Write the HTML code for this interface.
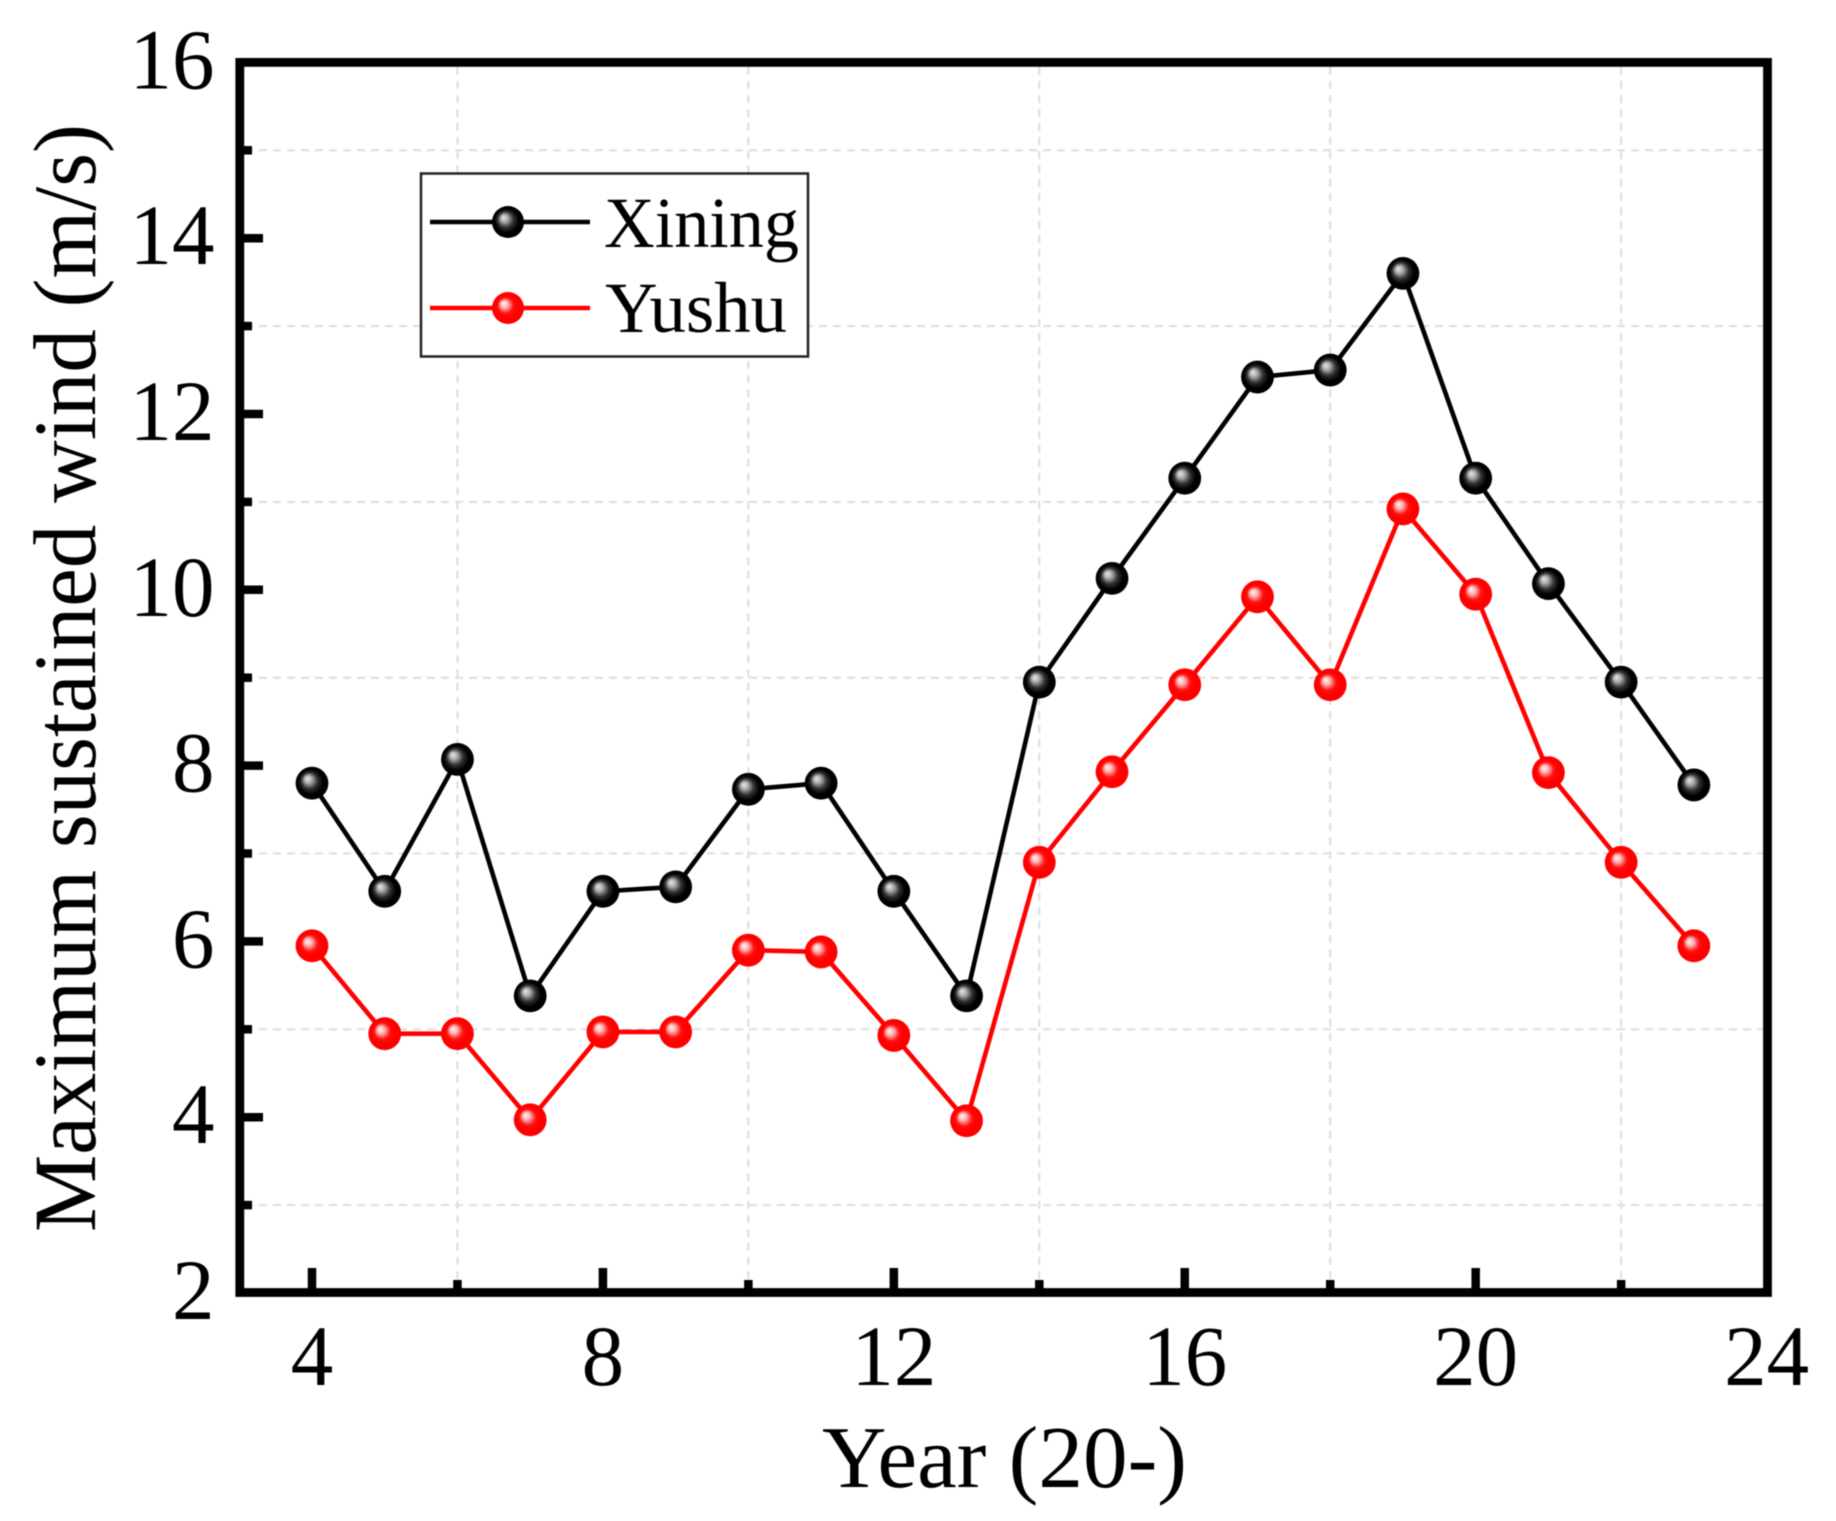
<!DOCTYPE html>
<html lang="en">
<head>
<meta charset="utf-8">
<title>Maximum sustained wind chart</title>
<style>
html,body{margin:0;padding:0;background:#fff;}
svg{display:block;filter:blur(0.6px);}
text{font-family:"Liberation Serif","Times New Roman",serif;fill:#000;}
</style>
</head>
<body>
<svg id="chart" xmlns="http://www.w3.org/2000/svg" width="1836" height="1521" viewBox="0 0 1836 1521">
  <defs>
    <radialGradient id="ball-black" cx="0.5" cy="0.5" r="0.5" fx="0.35" fy="0.35">
      <stop offset="0" stop-color="#e8e8e8"/>
      <stop offset="0.22" stop-color="#b0b0b0"/>
      <stop offset="0.5" stop-color="#303030"/>
      <stop offset="0.75" stop-color="#000"/>
      <stop offset="1" stop-color="#000"/>
    </radialGradient>
    <radialGradient id="ball-red" cx="0.5" cy="0.5" r="0.5" fx="0.35" fy="0.35">
      <stop offset="0" stop-color="#fff4f4"/>
      <stop offset="0.22" stop-color="#ffb8b8"/>
      <stop offset="0.5" stop-color="#ff1010"/>
      <stop offset="0.7" stop-color="#ff0000"/>
      <stop offset="1" stop-color="#ff0000"/>
    </radialGradient>
  </defs>
  <g id="grid-layer"></g>
  <g id="tick-layer"></g>
  <g id="series-layer"></g>
  <rect x="239.8" y="62.4" width="1527.7" height="1230.1" fill="none" stroke="#000" stroke-width="8.8"/>
  <g id="label-layer"></g>
  <text x="822" y="1487" font-size="88" textLength="365" lengthAdjust="spacingAndGlyphs">Year (20-)</text>
  <text transform="translate(95,1232) rotate(-90)" x="0" y="0" font-size="89" textLength="1108" lengthAdjust="spacingAndGlyphs">Maximum sustained wind (m/s)</text>
  <g>
    <rect x="421" y="173.5" width="387" height="183" fill="#fff" stroke="#222" stroke-width="2.5"/>
    <g>
      <line x1="430" y1="222" x2="590" y2="222" stroke="#000" stroke-width="4.5"/>
      <circle cx="508" cy="222" r="16" fill="url(#ball-black)"/>
      <text x="604" y="247" font-size="72" textLength="195" lengthAdjust="spacingAndGlyphs">Xining</text>
    </g>
    <g>
      <line x1="430" y1="308" x2="590" y2="308" stroke="#f00" stroke-width="4.5"/>
      <circle cx="508" cy="308" r="16" fill="url(#ball-red)"/>
      <text x="605" y="332" font-size="72" textLength="182" lengthAdjust="spacingAndGlyphs">Yushu</text>
    </g>
  </g>
</svg>
<script>
const years = [4,5,6,7,8,9,10,11,12,13,14,15,16,17,18,19,20,21,22,23];
const xiningValues = [7.8,6.57,8.07,5.38,6.57,6.62,7.73,7.8,6.57,5.38,8.95,10.13,11.27,12.42,12.5,13.6,11.27,10.07,8.95,7.78];
const yushuValues = [5.95,4.95,4.95,3.97,4.97,4.97,5.9,5.88,4.93,3.96,6.9,7.93,8.92,9.92,8.92,10.92,9.95,7.92,6.9,5.95];
const xMajorTicks = [4,8,12,16,20,24];
const xMinorTicks = [6,10,14,18,22];
const yMajorTicks = [2,4,6,8,10,12,14,16];
const yMinorTicks = [3,5,7,9,11,13,15];

const SVGNS = 'http://www.w3.org/2000/svg';
function xScale(v){ return 312 + 72.73 * (v - 4); }
function yScale(v){ return 1293 - 87.9 * (v - 2); }
function make(tag, parent){
  const el = document.createElementNS(SVGNS, tag);
  parent.appendChild(el);
  return el;
}
function setLine(el, x1, y1, x2, y2, color, width){
  el.setAttribute('x1', x1);
  el.setAttribute('y1', y1);
  el.setAttribute('x2', x2);
  el.setAttribute('y2', y2);
  el.setAttribute('stroke', color);
  el.setAttribute('stroke-width', width);
}
function labelWidth(v){ return String(v).length * 42.5; }
const gridLayer = document.getElementById('grid-layer');
const tickLayer = document.getElementById('tick-layer');
const seriesLayer = document.getElementById('series-layer');
const labelLayer = document.getElementById('label-layer');

xMinorTicks.forEach(function(v){
  const g = make('line', gridLayer);
  
  
  setLine(g, xScale(v), 67, xScale(v), 1288, '#dedede', 2);
  g.setAttribute('stroke-dasharray', '8 6');
  const t = make('line', tickLayer);
  
  
  setLine(t, xScale(v), 1290, xScale(v), 1280, '#000', 8.5);
});
yMinorTicks.forEach(function(v){
  const g = make('line', gridLayer);
  
  
  setLine(g, 245, yScale(v), 1763, yScale(v), '#dedede', 2);
  g.setAttribute('stroke-dasharray', '8 6');
  const t = make('line', tickLayer);
  
  
  setLine(t, 242, yScale(v), 252, yScale(v), '#000', 8.5);
});
xMajorTicks.forEach(function(v){
  if (v < 24) {
    const t = make('line', tickLayer);
    
    
    setLine(t, xScale(v), 1290, xScale(v), 1268, '#000', 8.5);
  }
  const l = make('text', labelLayer);
  
  
  l.setAttribute('x', xScale(v));
  l.setAttribute('y', 1385);
  l.setAttribute('font-size', 86);
  l.setAttribute('text-anchor', 'middle');
  l.setAttribute('textLength', labelWidth(v));
  l.setAttribute('lengthAdjust', 'spacingAndGlyphs');
  l.textContent = String(v);
});
yMajorTicks.forEach(function(v){
  if (v > 2 && v < 16) {
    const t = make('line', tickLayer);
    
    
    setLine(t, 242, yScale(v), 263, yScale(v), '#000', 8.5);
  }
  const l = make('text', labelLayer);
  
  
  l.setAttribute('x', 214.5);
  l.setAttribute('y', yScale(v) + 26);
  l.setAttribute('font-size', 86);
  l.setAttribute('text-anchor', 'end');
  l.setAttribute('textLength', labelWidth(v));
  l.setAttribute('lengthAdjust', 'spacingAndGlyphs');
  l.textContent = String(v);
});
function drawSeries(values, color, fill, seriesName){
  const path = make('polyline', seriesLayer);
  
  
  path.setAttribute('fill', 'none');
  path.setAttribute('stroke', color);
  path.setAttribute('stroke-width', 4.6);
  path.setAttribute('points', values.map(function(v, i){
    return xScale(years[i]) + ',' + yScale(v);
  }).join(' '));
  values.forEach(function(v, i){
    const c = make('circle', seriesLayer);
    
    
    c.setAttribute('cx', xScale(years[i]));
    c.setAttribute('cy', yScale(v));
    c.setAttribute('r', 16.4);
    c.setAttribute('fill', fill);
  });
}
drawSeries(xiningValues, '#000', 'url(#ball-black)', 'xining');
drawSeries(yushuValues, '#f00', 'url(#ball-red)', 'yushu');
</script>
</body>
</html>
